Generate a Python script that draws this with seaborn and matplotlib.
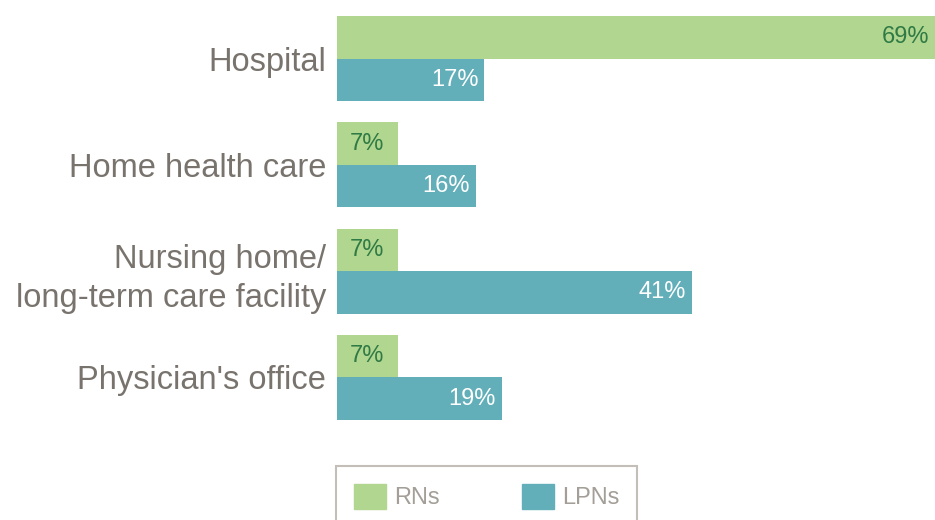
import numpy as np
import pandas as pd
import matplotlib.pyplot as plt
import seaborn as sns

# datos
categorias = ["Hospital", "Home health care", "Nursing home/\nlong-term care facility", "Physician's office"]
rns = [69, 7, 7, 7]
lpns = [17, 16, 41, 19]
grupos = ["RNs", "LPNs"]

verde = "#b1d68f"
azul = "#62afba"
gris = "#78736d"

df = pd.DataFrame({
    "categoria": categorias * 2,
    "valor": rns + lpns,
    "grupo": [grupos[0]] * 4 + [grupos[1]] * 4,
})

sns.set_style("white")
plt.rcParams['font.family'] = ['Liberation Sans', 'DejaVu Sans']

fig = plt.figure(figsize=(9.35, 5.2), dpi=100)
ax = fig.add_axes([337 / 935, 1 - 420 / 520, 598 / 935, 404 / 520])

sns.barplot(data=df, y="categoria", x="valor", hue="grupo", orient="h",
            palette=[verde, azul], width=0.8, saturation=1, linewidth=0,
            ax=ax, legend=False)

ax.set_xlim(0, 69)
ax.set_ylim(3.4, -0.4)
ax.set_xlabel("")
ax.set_ylabel("")
ax.set_xticks([])
ax.tick_params(axis="y", length=0, pad=8)
for t in ax.get_yticklabels():
    t.set_fontsize(23.5)
    t.set_color(gris)
    t.set_linespacing(1.35)
sns.despine(ax=ax, left=True, bottom=True)

# etiquetas de porcentaje
for cont, col in zip(ax.containers, ["#2f7a45", "white"]):
    for p in cont:
        w = p.get_width()
        yc = p.get_y() + p.get_height() / 2
        if w < 10:
            ax.text(w / 2, yc, f"{w:.0f}%", ha="center", va="center",
                    fontsize=17, color=col)
        else:
            ax.text(w - 0.7, yc, f"{w:.0f}%", ha="right", va="center",
                    fontsize=17, color=col)

handles = [plt.Rectangle((0, 0), 1, 1, color=verde), plt.Rectangle((0, 0), 1, 1, color=azul)]
leg = fig.legend(handles, grupos, loc="upper left", bbox_to_anchor=(336 / 935, 1 - 466 / 520),
                 ncol=2, frameon=True, fancybox=False, fontsize=17, handlelength=1.35,
                 handleheight=1.3, handletextpad=0.35, columnspacing=3.5, borderpad=0.75,
                 borderaxespad=0)
leg.get_frame().set_edgecolor("#b5aea6")
leg.get_frame().set_linewidth(1.5)
for t in leg.get_texts():
    t.set_color("#a39e97")

fig.savefig("out.png", dpi=100)
